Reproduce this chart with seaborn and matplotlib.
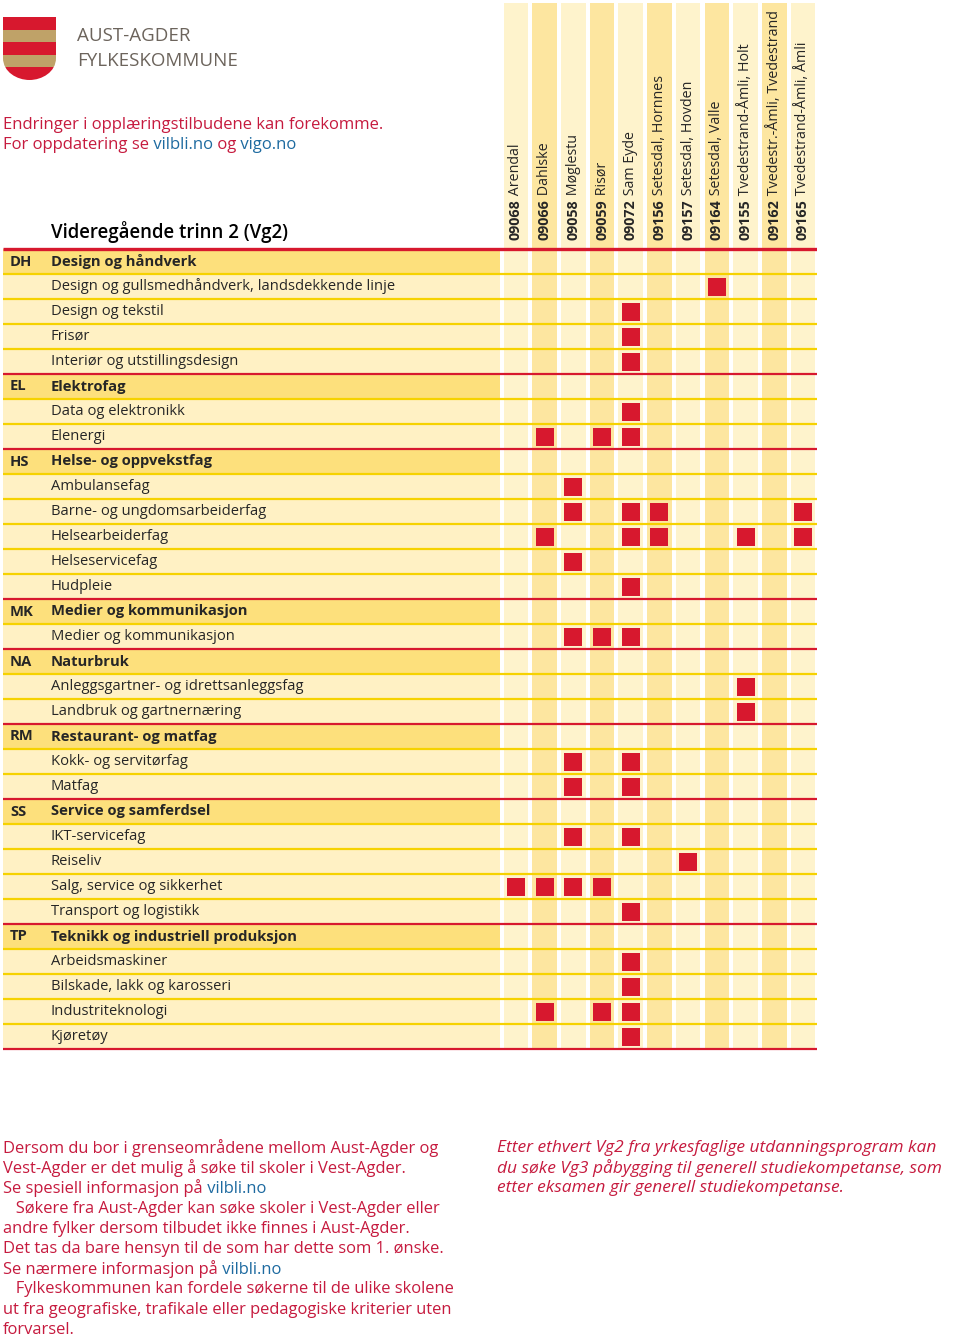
import numpy as np
import pandas as pd
import matplotlib
matplotlib.use('Agg')
import matplotlib.pyplot as plt
import matplotlib.transforms as mtransforms
from matplotlib.patches import Rectangle, PathPatch
from matplotlib.path import Path
import seaborn as sns

# Schools (columns)
school_codes = ["09068", "09066", "09058", "09059", "09072", "09156",
                "09157", "09164", "09155", "09162", "09165"]
school_names = ["Arendal", "Dahlske", "Møglestu", "Risør", "Sam Eyde",
                "Setesdal, Hornnes", "Setesdal, Hovden", "Setesdal, Valle",
                "Tvedestrand-Åmli, Holt", "Tvedestr.-Åmli, Tvedestrand",
                "Tvedestrand-Åmli, Åmli"]

# Programmes (rows) - rows with a code are the programme area headers
row_codes = ["DH", "", "", "", "", "EL", "", "", "HS", "", "", "", "", "",
             "MK", "", "NA", "", "", "RM", "", "", "SS", "", "", "", "",
             "TP", "", "", "", ""]
row_labels = ["Design og håndverk",
              "Design og gullsmedhåndverk, landsdekkende linje",
              "Design og tekstil", "Frisør", "Interiør og utstillingsdesign",
              "Elektrofag", "Data og elektronikk", "Elenergi",
              "Helse- og oppvekstfag", "Ambulansefag",
              "Barne- og ungdomsarbeiderfag", "Helsearbeiderfag",
              "Helseservicefag", "Hudpleie",
              "Medier og kommunikasjon", "Medier og kommunikasjon",
              "Naturbruk", "Anleggsgartner- og idrettsanleggsfag",
              "Landbruk og gartnernæring",
              "Restaurant- og matfag", "Kokk- og servitørfag", "Matfag",
              "Service og samferdsel", "IKT-servicefag", "Reiseliv",
              "Salg, service og sikkerhet", "Transport og logistikk",
              "Teknikk og industriell produksjon", "Arbeidsmaskiner",
              "Bilskade, lakk og karosseri", "Industriteknologi", "Kjøretøy"]

# Which school offers which Vg2 programme
offers = {
    "Design og gullsmedhåndverk, landsdekkende linje": ["09164"],
    "Design og tekstil": ["09072"],
    "Frisør": ["09072"],
    "Interiør og utstillingsdesign": ["09072"],
    "Data og elektronikk": ["09072"],
    "Elenergi": ["09066", "09059", "09072"],
    "Ambulansefag": ["09058"],
    "Barne- og ungdomsarbeiderfag": ["09058", "09072", "09156", "09165"],
    "Helsearbeiderfag": ["09066", "09072", "09156", "09155", "09165"],
    "Helseservicefag": ["09058"],
    "Hudpleie": ["09072"],
    "Medier og kommunikasjon": ["09058", "09059", "09072"],
    "Anleggsgartner- og idrettsanleggsfag": ["09155"],
    "Landbruk og gartnernæring": ["09155"],
    "Kokk- og servitørfag": ["09058", "09072"],
    "Matfag": ["09058", "09072"],
    "IKT-servicefag": ["09058", "09072"],
    "Reiseliv": ["09157"],
    "Salg, service og sikkerhet": ["09068", "09066", "09058", "09059"],
    "Transport og logistikk": ["09072"],
    "Arbeidsmaskiner": ["09072"],
    "Bilskade, lakk og karosseri": ["09072"],
    "Industriteknologi": ["09066", "09059", "09072"],
    "Kjøretøy": ["09072"],
}

RED = "#d7182e"
TXT_RED = "#c61a3e"
BLUE = "#1d6aa0"
YELLOW_LINE = "#f6d200"
LIGHT = "#fff1c4"
COL_LIGHT = "#fef3cc"
COL_DARK = "#fde6a0"
HEAD = "#fde07c"

sns.set_style("white")
plt.rcParams['font.family'] = ['Open Sans', 'DejaVu Sans']

fig = plt.figure(figsize=(9.6, 13.41), dpi=100)

# background axes in pixel units for free text / logo
bg = fig.add_axes([0, 0, 1, 1])
bg.set_xlim(0, 960)
bg.set_ylim(1341, 0)
bg.axis('off')

# ---- logo ----
shield = Path([(3, 17), (56, 17), (56, 58), (56, 72), (42, 80), (29.5, 80),
               (17, 80), (3, 72), (3, 58), (3, 17)],
              [Path.MOVETO, Path.LINETO, Path.LINETO, Path.CURVE4, Path.CURVE4,
               Path.CURVE4, Path.CURVE4, Path.CURVE4, Path.CURVE4, Path.CLOSEPOLY])
clip = PathPatch(shield, transform=bg.transData, facecolor='none', edgecolor='none')
bg.add_patch(clip)
for i, c in enumerate([RED, "#bfa268", RED, "#bfa268", RED]):
    r = Rectangle((3, 17 + i * 12.6), 53, 12.6, facecolor=c, edgecolor='none')
    bg.add_patch(r)
    r.set_clip_path(clip)
bg.text(77, 36, "AUST-AGDER", fontsize=13.5, color="#6c645c", va='center')
bg.text(77, 61, "FYLKESKOMMUNE", fontsize=13.5, color="#6c645c", va='center')


def mixed(x, y, parts, **kw):
    t = bg.text(x, y, parts[0][0], color=parts[0][1], va='center', **kw)
    for s, c in parts[1:]:
        t = bg.annotate(s, xy=(1, 0), xycoords=t, color=c, va='bottom', **kw)


mixed(3, 125, [("Endringer i opplæringstilbudene kan forekomme.", TXT_RED)], fontsize=12)
mixed(3, 145, [("For oppdatering se", TXT_RED), (" vilbli.no", BLUE),
               (" og", TXT_RED), (" vigo.no", BLUE)], fontsize=12)

bg.text(51, 232, "Videregående trinn 2 (Vg2)", fontsize=13.4,
        fontweight='semibold', color='black', va='center')

# bottom notes
left_lines = [
    [("Dersom du bor i grenseområdene mellom Aust-Agder og", TXT_RED)],
    [("Vest-Agder er det mulig å søke til skoler i Vest-Agder.", TXT_RED)],
    [("Se spesiell informasjon på", TXT_RED), (" vilbli.no", BLUE)],
    [("   Søkere fra Aust-Agder kan søke skoler i Vest-Agder eller", TXT_RED)],
    [("andre fylker dersom tilbudet ikke finnes i Aust-Agder.", TXT_RED)],
    [("Det tas da bare hensyn til de som har dette som 1. ønske.", TXT_RED)],
    [("Se nærmere informasjon på", TXT_RED), (" vilbli.no", BLUE)],
    [("   Fylkeskommunen kan fordele søkerne til de ulike skolene", TXT_RED)],
    [("ut fra geografiske, trafikale eller pedagogiske kriterier uten", TXT_RED)],
    [("forvarsel.", TXT_RED)],
]
for i, parts in enumerate(left_lines):
    mixed(3, 1148 + i * 20.2, parts, fontsize=11.9)

right_lines = ["Etter ethvert Vg2 fra yrkesfaglige utdanningsprogram kan",
               "du søke Vg3 påbygging til generell studiekompetanse, som",
               "etter eksamen gir generell studiekompetanse."]
for i, s in enumerate(right_lines):
    bg.text(497, 1148 + i * 20.2, s, fontsize=12.5, color=TXT_RED,
            style='italic', va='center')

# ---- table axes ----
pitch = 28.7
col0_left = 501.6
n_rows = len(row_labels)
n_cols = len(school_codes)
x_min = -0.5 - (col0_left - 3) / pitch
y_top = -0.5 - 246 / 25

ax = fig.add_axes([3 / 960, 1 - 1049 / 1341, (col0_left + n_cols * pitch - 3) / 960,
                   (1049 - 3) / 1341])
ax.patch.set_alpha(0)

# column backgrounds
col_colors = [COL_LIGHT if i % 2 == 0 else COL_DARK for i in range(n_cols)]
ax.bar(np.arange(n_cols), height=n_rows - 0.5 - y_top, bottom=y_top,
       width=24.6 / pitch, color=col_colors, linewidth=0, zorder=0)

# row label backgrounds
is_head = [c != "" for c in row_codes]
ax.barh(np.arange(n_rows), width=(500 - 3) / pitch, left=x_min, height=1,
        color=[HEAD if h else LIGHT for h in is_head], linewidth=0, zorder=0)

# markers
row_of = {lab: i for i, lab in enumerate(row_labels) if not is_head[i]}
recs = [(school_codes.index(s), row_of[prog]) for prog, lst in offers.items() for s in lst]
df = pd.DataFrame(recs, columns=["col", "row"])
sns.scatterplot(data=df, x="col", y="row", marker="s", s=150, color=RED,
                linewidth=0, ax=ax, legend=False, zorder=3)

# separator lines
bounds = np.arange(n_rows + 1) - 0.5
red_b = [b for b in bounds if (b + 0.5 < n_rows and is_head[int(b + 0.5)]) or b + 0.5 == n_rows]
yel_b = [b for b in bounds if b not in red_b]
ax.hlines(yel_b, x_min, n_cols - 0.5, colors=YELLOW_LINE, linewidth=1.6, zorder=2)
ax.hlines(red_b[1:], x_min, n_cols - 0.5, colors=RED, linewidth=1.6, zorder=2,
          clip_on=False)
ax.hlines(red_b[0], x_min, n_cols - 0.5, colors=RED, linewidth=2.4, zorder=2)

ax.set_xlim(x_min, n_cols - 0.5)
ax.set_ylim(n_rows - 0.5, y_top)
ax.axis('off')

# row texts
tr = mtransforms.blended_transform_factory(bg.transData, ax.transData)
for i, (code, lab) in enumerate(zip(row_codes, row_labels)):
    w = 'bold' if code else 'normal'
    if code:
        ax.text(10, i, code, transform=tr, fontsize=10.6, fontweight='bold', va='center')
    ax.text(51, i, lab, transform=tr, fontsize=10.6, fontweight=w, va='center')

# column headers
for i, (code, name) in enumerate(zip(school_codes, school_names)):
    t = ax.text(i, -0.5 - 9 / 25, code, rotation=90, ha='center', va='bottom',
                fontsize=10.3, fontweight='bold')
    ax.annotate(" " + name, xy=(0.5, 1), xycoords=t, rotation=90,
                ha='center', va='bottom', fontsize=10.3)

fig.savefig("out.png", dpi=100)
